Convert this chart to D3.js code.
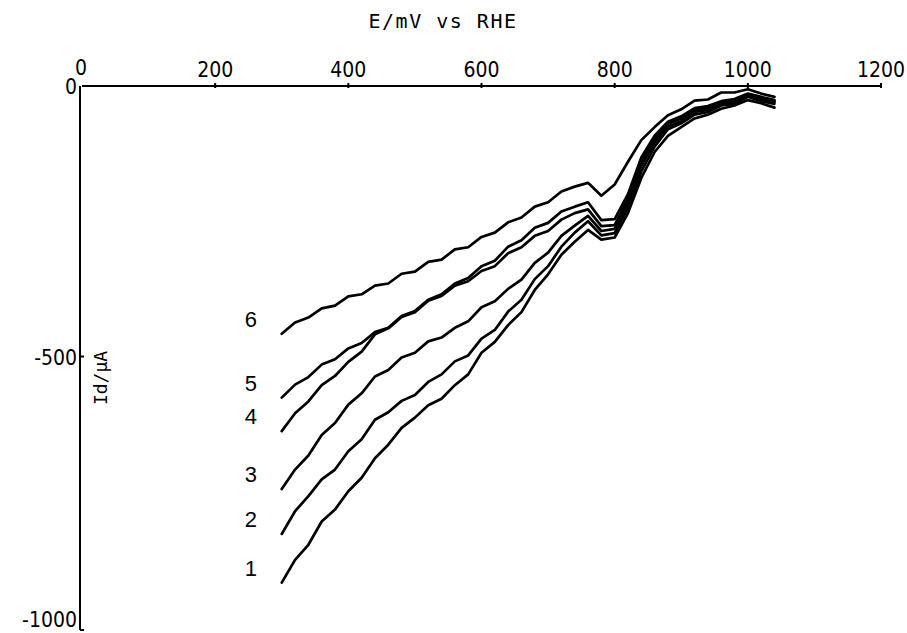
<!DOCTYPE html>
<html>
<head>
<meta charset="utf-8">
<script src="https://cdn.jsdelivr.net/npm/d3@7"></script>
<style>
  html, body { margin: 0; padding: 0; background: #fff; }
  svg { display: block; }
  .tick-label { font-family: "DejaVu Sans Condensed", "DejaVu Sans", sans-serif; font-stretch: condensed; font-size: 21px; fill: #000; }
  .curve-label { font-family: "Liberation Sans", Arial, sans-serif; font-size: 22px; fill: #000; }
</style>
</head>
<body>
<div id="chart"></div>
<script>
// potential, mV vs RHE
const potential = [300, 320, 340, 360, 380, 400, 420, 440, 460, 480, 500, 520, 540, 560, 580, 600, 620, 640, 660, 680,
                   700, 720, 740, 760, 780, 800, 820, 840, 860, 880, 900, 920, 940, 960, 980, 1000, 1020, 1040];

// disk current, µA (curves 1..6)
const current1 = [-918, -876, -848, -805, -783, -749, -724, -688, -663, -632, -613, -590, -578, -553, -533, -493, -473, -442, -418, -377,
                  -348, -312, -288, -266, -284, -280, -235, -170, -122, -92, -76, -60, -53, -42, -36, -26, -32, -40];
const current2 = [-828, -786, -758, -727, -709, -675, -653, -617, -603, -582, -571, -547, -533, -509, -498, -467, -451, -417, -395, -357,
                  -333, -297, -271, -250, -276, -272, -225, -158, -112, -80, -69, -53, -48, -36, -33, -20, -28, -33];
const current3 = [-745, -709, -683, -645, -623, -589, -568, -537, -525, -502, -493, -472, -465, -447, -435, -409, -398, -375, -358, -327,
                  -308, -277, -258, -240, -268, -264, -215, -148, -104, -75, -65, -48, -44, -33, -29, -18, -24, -30];
const current4 = [-638, -605, -583, -553, -536, -510, -491, -459, -448, -427, -418, -397, -388, -369, -361, -342, -333, -309, -298, -277,
                  -268, -247, -235, -228, -259, -257, -208, -140, -98, -70, -60, -44, -40, -30, -26, -16, -22, -28];
const current5 = [-576, -552, -538, -515, -505, -485, -475, -455, -447, -425, -416, -395, -385, -365, -355, -333, -323, -297, -285, -262,
                  -253, -232, -223, -215, -248, -246, -200, -132, -92, -66, -56, -41, -37, -28, -24, -14, -20, -26];
const current6 = [-458, -437, -428, -411, -406, -389, -385, -369, -365, -347, -343, -325, -321, -302, -298, -279, -271, -252, -243, -223,
                  -215, -195, -186, -179, -203, -182, -140, -100, -76, -54, -43, -27, -25, -12, -12, -6, -14, -20];

const curveNames = ["1", "2", "3", "4", "5", "6"];
const xTicks = [0, 200, 400, 600, 800, 1000, 1200];
const yTicks = [0, -500, -1000];
const xTitle = "E/mV vs RHE";
const yTitle = "Id/µA";

const width = 907, height = 633;

const svg = d3.select("#chart").append("svg")
    .attr("width", width)
    .attr("height", height)
    .attr("viewBox", [0, 0, width, height]);

// scales: top axis at current 0, left axis at potential 0
const x = d3.scaleLinear().domain([0, 1200]).range([82, 881]);
const y = d3.scaleLinear().domain([0, -1000]).range([86, 627]);

// x axis along the top
svg.append("line")
    .attr("x1", x(0)).attr("x2", x(1200))
    .attr("y1", y(0)).attr("y2", y(0))
    .attr("stroke", "#000").attr("stroke-width", 2);

svg.selectAll("line.xtick")
    .data(xTicks.slice(1))
    .join("line")
    .attr("class", "xtick")
    .attr("x1", d => x(d)).attr("x2", d => x(d))
    .attr("y1", y(0) - 3).attr("y2", y(0) + 2)
    .attr("stroke", "#000").attr("stroke-width", 2);

svg.selectAll("text.xlab")
    .data(xTicks)
    .join("text")
    .attr("class", "tick-label xlab")
    .attr("x", d => d === 0 ? x(d) - 1 : x(d))
    .attr("y", d => d === 0 ? 75 : 77)
    .attr("text-anchor", "middle")
    .text(d => d);

// y axis on the left
svg.append("line")
    .attr("x1", 80).attr("x2", 80)
    .attr("y1", y(0)).attr("y2", y(-1000) + 3)
    .attr("stroke", "#000").attr("stroke-width", 2);

svg.selectAll("line.ytick")
    .data(yTicks.slice(1))
    .join("line")
    .attr("class", "ytick")
    .attr("x1", 80).attr("x2", 84)
    .attr("y1", d => y(d) + (d === -1000 ? 3 : 0))
    .attr("y2", d => y(d) + (d === -1000 ? 3 : 0))
    .attr("stroke", "#000").attr("stroke-width", 2);

svg.selectAll("text.ylab")
    .data(yTicks)
    .join("text")
    .attr("class", "tick-label ylab")
    .attr("x", 77)
    .attr("y", d => Math.min(y(d) + 8, 627))
    .attr("text-anchor", "end")
    .text(d => d === 0 ? "0" : "-" + Math.abs(d));

// titles
svg.append("text")
    .attr("x", 443).attr("y", 28)
    .attr("text-anchor", "middle")
    .attr("fill", "#000")
    .style("font-family", "'DejaVu Sans Mono', monospace")
    .style("font-size", "20px")
    .style("letter-spacing", "1.5px")
    .text(xTitle);

svg.append("text")
    .attr("transform", "translate(107,378) rotate(-90)")
    .attr("text-anchor", "middle")
    .attr("fill", "#000")
    .style("font-family", "'DejaVu Sans Mono', monospace")
    .style("font-size", "18px")
    .text(yTitle);

// curves
const series = [current1, current2, current3, current4, current5, current6].map((vals, i) => ({
    name: curveNames[i],
    values: vals.map((v, j) => [potential[j], v])
}));

const line = d3.line()
    .x(d => x(d[0]))
    .y(d => y(d[1]));

svg.selectAll("path.curve")
    .data(series)
    .join("path")
    .attr("class", "curve")
    .attr("d", d => line(d.values))
    .attr("fill", "none")
    .attr("stroke", "#000")
    .attr("stroke-width", 2.7)
    .attr("stroke-linejoin", "round")
    .attr("stroke-linecap", "round");

// numbers beside the start of each curve
svg.selectAll("text.curve-label")
    .data(series)
    .join("text")
    .attr("class", "curve-label")
    .attr("x", d => x(d.values[0][0]) - 31)
    .attr("y", d => y(d.values[0][1]) - 15)
    .attr("dy", "0.36em")
    .attr("text-anchor", "middle")
    .text(d => d.name);
</script>
</body>
</html>
